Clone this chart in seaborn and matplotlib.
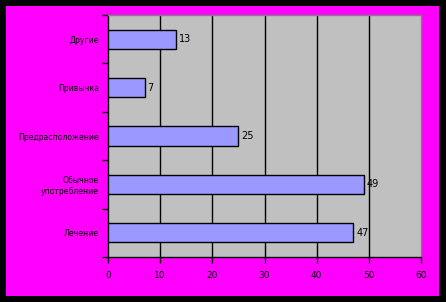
import matplotlib
matplotlib.use("Agg")
import matplotlib.pyplot as plt
import seaborn as sns
import pandas as pd
import numpy as np
from matplotlib.patches import Rectangle

categories = ["Другие", "Привычка", "Предрасположение", "Обычное\nупотребление", "Лечение"]
values = [13, 7, 25, 49, 47]
xticks = [0, 10, 20, 30, 40, 50, 60]

df = pd.DataFrame({"cat": categories, "val": values})

sns.set_theme(style="white")
plt.rcParams['font.family'] = ['DejaVu Sans']

W, H = 446, 302
fig = plt.figure(figsize=(W / 100, H / 100), dpi=100, facecolor="black")
fig.patches.append(Rectangle((6 / W, 6 / H), 433 / W, 290 / H, transform=fig.transFigure,
                             facecolor="#FF00FF", edgecolor="none", zorder=-10))

ax = fig.add_axes([108 / W, 45 / H, 313 / W, 242 / H])
ax.set_zorder(5)
ax.set_facecolor("#C0C0C0")

sns.barplot(data=df, x="val", y="cat", orient="h", color="#9999FF", saturation=1,
            edgecolor="black", linewidth=1.0, width=0.4, ax=ax, zorder=3)

ax.set_xlim(0, 60)
ax.set_ylim(4.5, -0.5)
ax.set_xticks(xticks)
ax.set_xticklabels([str(t) for t in xticks], fontsize=6.5, color="black")
ax.set_yticks(range(len(categories)))
ax.set_yticklabels(categories, fontsize=5.6, color="black")
ax.tick_params(axis="y", which="major", length=0, pad=6.5)
ax.set_yticks(np.arange(-0.5, len(categories), 1), minor=True)
ax.tick_params(axis="y", which="minor", length=4, width=1, color="black", direction="out")
ax.tick_params(axis="x", which="major", length=4, width=1, color="black", direction="out", pad=6)
ax.tick_params(left=True, bottom=True, which="both")

for x in xticks[1:-1]:
    ax.axvline(x, color="black", linewidth=1, zorder=1)

for i, v in enumerate(values):
    ax.text(v + 0.6, i, str(v), va="center", ha="left", fontsize=7, color="black", zorder=4)

ax.set_xlabel("")
ax.set_ylabel("")
for side in ["top", "right"]:
    ax.spines[side].set_color("#808080")
    ax.spines[side].set_linewidth(1)
for side in ["left", "bottom"]:
    ax.spines[side].set_color("black")
    ax.spines[side].set_linewidth(1)
    ax.spines[side].set_visible(True)
ax.spines["top"].set_visible(True)
ax.spines["right"].set_visible(True)

fig.savefig("out.png", dpi=100, facecolor="black")
